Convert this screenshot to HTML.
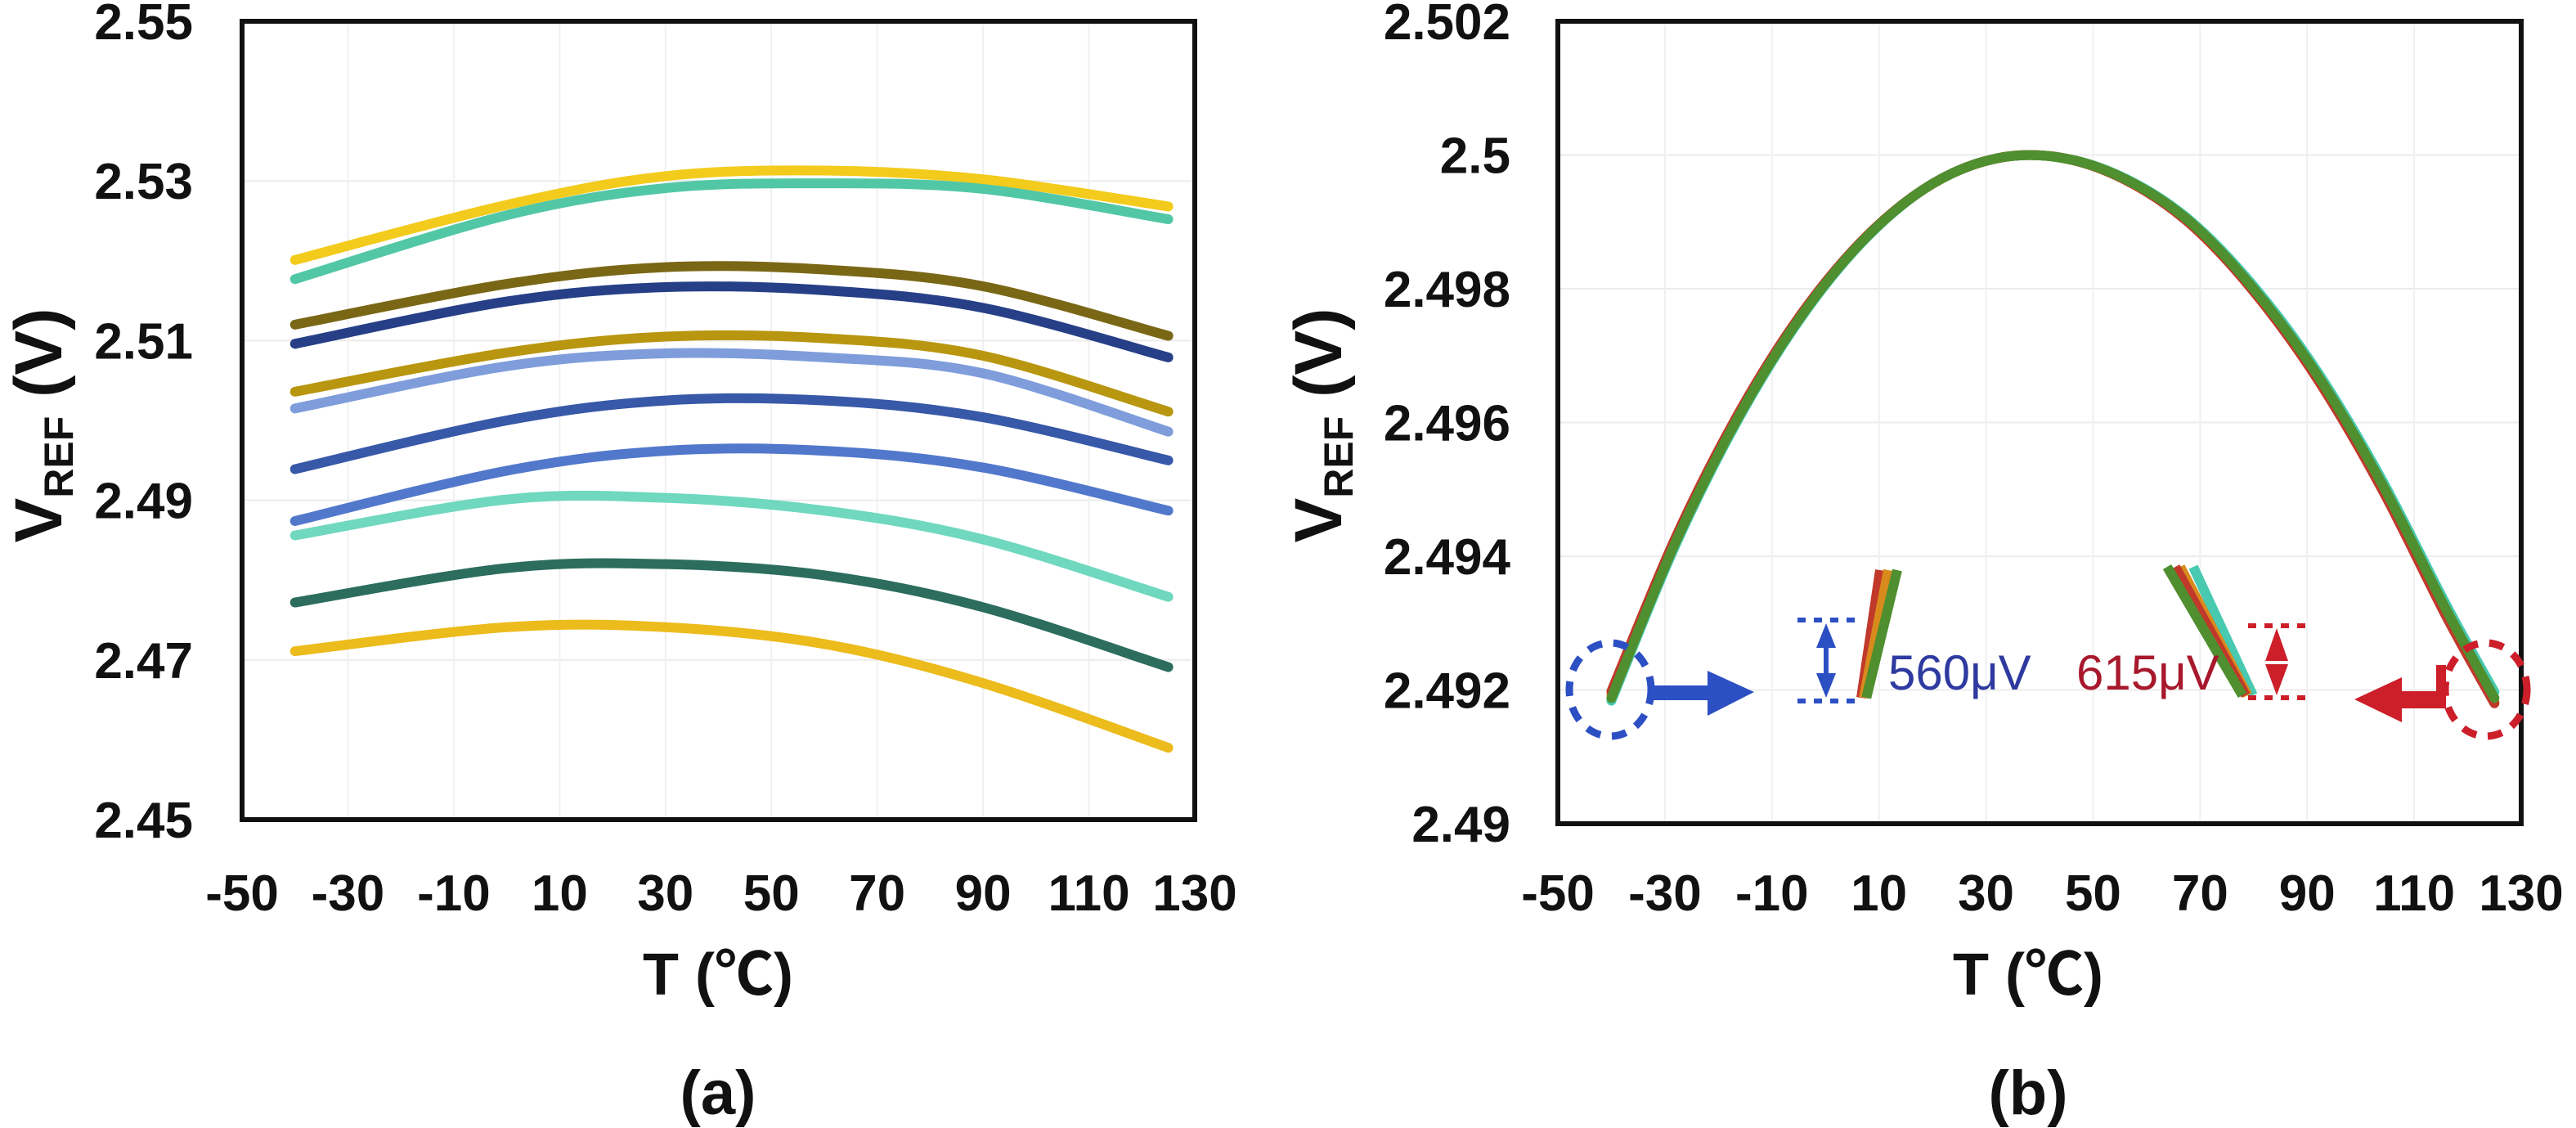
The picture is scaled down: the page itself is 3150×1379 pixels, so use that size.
<!DOCTYPE html>
<html><head><meta charset="utf-8"><style>
html,body{margin:0;padding:0;background:#fff;}
svg{display:block;}
text{font-family:"Liberation Sans","Noto Sans CJK SC",sans-serif;}
</style></head><body>
<svg id="fig" width="3150" height="1379" viewBox="0 0 3150 1379" xmlns="http://www.w3.org/2000/svg">
<g id="pa"></g>
<g id="pb"></g>
</svg>
<script>
// ---------- Panel (a) data ----------
const aTemps = [-40, 0, 30, 60, 90, 125];
const aSeries1 = [2.5201, 2.5270, 2.5306, 2.5313, 2.5302, 2.5268];
const aSeries2 = [2.5177, 2.5257, 2.5291, 2.5297, 2.5290, 2.5252];
const aSeries3 = [2.5120, 2.5171, 2.5192, 2.5189, 2.5168, 2.5106];
const aSeries4 = [2.5096, 2.5149, 2.5167, 2.5163, 2.5141, 2.5079];
const aSeries5 = [2.5036, 2.5085, 2.5105, 2.5103, 2.5081, 2.5011];
const aSeries6 = [2.5015, 2.5068, 2.5084, 2.5079, 2.5059, 2.4986];
const aSeries7 = [2.4939, 2.5000, 2.5025, 2.5025, 2.5004, 2.4950];
const aSeries8 = [2.4874, 2.4937, 2.4962, 2.4962, 2.4941, 2.4887];
const aSeries9 = [2.4856, 2.4901, 2.4903, 2.4887, 2.4851, 2.4779];
const aSeries10 = [2.4772, 2.4815, 2.4820, 2.4806, 2.4766, 2.4691];
const aSeries11 = [2.4711, 2.4741, 2.4741, 2.4720, 2.4671, 2.4590];
const aYTicks = ["2.45","2.47","2.49","2.51","2.53","2.55"];
const xTicks = ["-50","-30","-10","10","30","50","70","90","110","130"];

// ---------- Panel (b) data ----------
const bTemps = [-40, -28, -16, -4, 8, 20, 32, 44, 56, 68, 80, 92, 104, 116, 125];
const bSeriesOrange = [2.49193, 2.49425, 2.49615, 2.49767, 2.49881, 2.49957, 2.49995, 2.49996, 2.49963, 2.49899, 2.49798, 2.49667, 2.49503, 2.49314, 2.49182];
const bSeriesTeal   = [2.49184, 2.49417, 2.49609, 2.49763, 2.49879, 2.49957, 2.49995, 2.49996, 2.49965, 2.49903, 2.49804, 2.49675, 2.49514, 2.49327, 2.49197];
const bSeriesRed    = [2.49198, 2.49428, 2.49617, 2.49768, 2.49881, 2.49957, 2.49995, 2.49996, 2.49963, 2.49898, 2.49796, 2.49664, 2.49500, 2.49310, 2.49180];
const bSeriesGreen  = [2.49188, 2.49421, 2.49612, 2.49765, 2.49880, 2.49957, 2.49995, 2.49996, 2.49964, 2.49901, 2.49800, 2.49670, 2.49508, 2.49320, 2.49188];
const bYTicks = ["2.49","2.492","2.494","2.496","2.498","2.5","2.502"];

const NS = "http://www.w3.org/2000/svg";
function mk(parent, tag, attrs, txt){
  const e = document.createElementNS(NS, tag);
  for (const k in attrs) e.setAttribute(k, attrs[k]);
  if (txt !== undefined) e.textContent = txt;
  parent.appendChild(e);
  return e;
}
function smooth(pts){
  let d = "M" + pts[0][0] + "," + pts[0][1];
  for (let i=0;i<pts.length-1;i++){
    const p0=pts[i-1]||pts[i], p1=pts[i], p2=pts[i+1], p3=pts[i+2]||p2;
    const c1x=p1[0]+(p2[0]-p0[0])/6, c1y=p1[1]+(p2[1]-p0[1])/6;
    const c2x=p2[0]-(p3[0]-p1[0])/6, c2y=p2[1]-(p3[1]-p1[1])/6;
    d += " C"+c1x+","+c1y+" "+c2x+","+c2y+" "+p2[0]+","+p2[1];
  }
  return d;
}

function drawPanel(g, o){
  const sx = t => o.x0 + (t - (-50)) / 180 * (o.x1 - o.x0);
  const sy = v => o.y1 - (v - o.vmin) / (o.vmax - o.vmin) * (o.y1 - o.y0);
  o.yTicks.forEach(t=>{
    const l = mk(g,"line",{x1:o.x0,x2:o.x1,y1:sy(+t),y2:sy(+t),stroke:"#ececec","stroke-width":2});
    
    
  });
  xTicks.forEach(t=>{
    const l = mk(g,"line",{x1:sx(+t),x2:sx(+t),y1:o.y0,y2:o.y1,stroke:"#f0f0f0","stroke-width":2});
    
    
  });
  o.series.forEach(s=>{
    const pts = o.temps.map((t,i)=>[sx(t), sy(s.v[i])]);
    const p = mk(g,"path",{d:smooth(pts),fill:"none",stroke:s.c,"stroke-width":o.lw,"stroke-linecap":"round"});
    
    
  });
  const f = mk(g,"rect",{x:o.x0,y:o.y0,width:o.x1-o.x0,height:o.y1-o.y0,fill:"none",stroke:"#111","stroke-width":6});
  
  
  o.yTicks.forEach(t=>{
    const e = mk(g,"text",{x:o.ylx,y:sy(+t)+22,"text-anchor":"end","font-size":62,"font-weight":"bold",fill:"#111"},t);
    
    
  });
  xTicks.forEach(t=>{
    const e = mk(g,"text",{x:sx(+t),y:1113,"text-anchor":"middle","font-size":62,"font-weight":"bold",fill:"#111"},t);
    
    
  });
  const xt = mk(g,"text",{x:o.xtx,y:1216,"text-anchor":"middle","font-size":72,"font-weight":"bold",fill:"#111"},"T (\u2103)");
  
  
  const yt = mk(g,"text",{transform:"translate("+o.ytx+",520) rotate(-90)","text-anchor":"middle","font-size":82,"font-weight":"bold",fill:"#111"});
  
  
  mk(yt,"tspan",{},"V");
  mk(yt,"tspan",{"font-size":50,dy:14},"REF");
  mk(yt,"tspan",{dy:-14}," (V)");
  const cap = mk(g,"text",{x:o.xtx,y:1362,"text-anchor":"middle","font-size":76,"font-weight":"bold",fill:"#111"},o.cap);
  
  
  return {sx, sy};
}

drawPanel(document.getElementById('pa'), {
  x0:296, x1:1461, y0:26, y1:1002, vmin:2.45, vmax:2.55, ylx:236, xtx:878, ytx:75, lw:12, cap:"(a)",
  yTicks:aYTicks, temps:aTemps,
  series:[
    {n:"curve-1",v:aSeries1,c:"#f3cb1c"},
    {n:"curve-2",v:aSeries2,c:"#52c7a6"},
    {n:"curve-3",v:aSeries3,c:"#7a6716"},
    {n:"curve-4",v:aSeries4,c:"#263f86"},
    {n:"curve-5",v:aSeries5,c:"#b8960f"},
    {n:"curve-6",v:aSeries6,c:"#7f9ddb"},
    {n:"curve-7",v:aSeries7,c:"#3858a8"},
    {n:"curve-8",v:aSeries8,c:"#5278cc"},
    {n:"curve-9",v:aSeries9,c:"#6fd8bf"},
    {n:"curve-10",v:aSeries10,c:"#2c6d5e"},
    {n:"curve-11",v:aSeries11,c:"#ecbb1c"}
  ]
});

drawPanel(document.getElementById('pb'), {
  x0:1905, x1:3083, y0:26, y1:1007, vmin:2.49, vmax:2.502, ylx:1847, xtx:2480, ytx:1640, lw:12, cap:"(b)",
  yTicks:bYTicks, temps:bTemps,
  series:[
    {n:"curve-orange",v:bSeriesOrange,c:"#d98a1c"},
    {n:"curve-teal",v:bSeriesTeal,c:"#48c9b0"},
    {n:"curve-red",v:bSeriesRed,c:"#c0392b"},
    {n:"curve-green",v:bSeriesGreen,c:"#4f8f2f"}
  ]
});

// ---------- Panel (b) annotations ----------
const pb = document.getElementById('pb');
const ann = mk(pb,"g",{});


[["#c0392b",2277],["#d98a1c",2287],["#4f8f2f",2298]].forEach(a=>{
  const l = mk(ann,"line",{x1:a[1]+22,y1:697,x2:2276+(a[1]-2277)*0.3,y2:853,stroke:a[0],"stroke-width":12});
  
  
});
[["#48c9b0",2682],["#d98a1c",2666],["#c0392b",2660],["#4f8f2f",2650]].forEach(a=>{
  const l = mk(ann,"line",{x1:a[1],y1:693,x2:2742+(a[1]-2650)*0.4,y2:850,stroke:a[0],"stroke-width":12});
  
  
});
const bc = mk(ann,"ellipse",{cx:1969,cy:843,rx:50,ry:57,fill:"none",stroke:"#2c4fc4","stroke-width":9,"stroke-dasharray":"18 14"});


const rc = mk(ann,"ellipse",{cx:3040,cy:843,rx:50,ry:57,fill:"none",stroke:"#cc1f2a","stroke-width":9,"stroke-dasharray":"18 14"});


const ba = mk(ann,"path",{d:"M2022,838 L2088,838 L2088,820 L2145,846 L2088,875 L2088,856 L2022,856 Z",fill:"#2c4fc4"});


const ra = mk(ann,"path",{d:"M2879,855 L2937,828 L2937,845 L2979,845 L2979,813 L2991,813 L2991,866 L2937,866 L2937,883 Z",fill:"#cc1f2a"});


[758,857].forEach(y=>{
  const l = mk(ann,"line",{x1:2198,x2:2268,y1:y,y2:y,stroke:"#2c4fc4","stroke-width":6,"stroke-dasharray":"10 10"});
  
  
});
const bd = mk(ann,"path",{d:"M2233,762 L2221,792 L2230,792 L2230,823 L2221,823 L2233,853 L2245,823 L2236,823 L2236,792 L2245,792 Z",fill:"#2c4fc4"});


[765,853].forEach(y=>{
  const l = mk(ann,"line",{x1:2749,x2:2819,y1:y,y2:y,stroke:"#cc1f2a","stroke-width":6,"stroke-dasharray":"10 10"});
  
  
});
const rd = mk(ann,"path",{d:"M2784,768 L2770,808 L2798,808 Z M2784,850 L2770,812 L2798,812 Z",fill:"#cc1f2a"});


const t1 = mk(ann,"text",{x:2309,y:843,"font-size":60,fill:"#2e3aa0"},"560\u03bcV");


const t2 = mk(ann,"text",{x:2539,y:843,"font-size":60,fill:"#a8182c"},"615\u03bcV");


</script>
</body></html>
